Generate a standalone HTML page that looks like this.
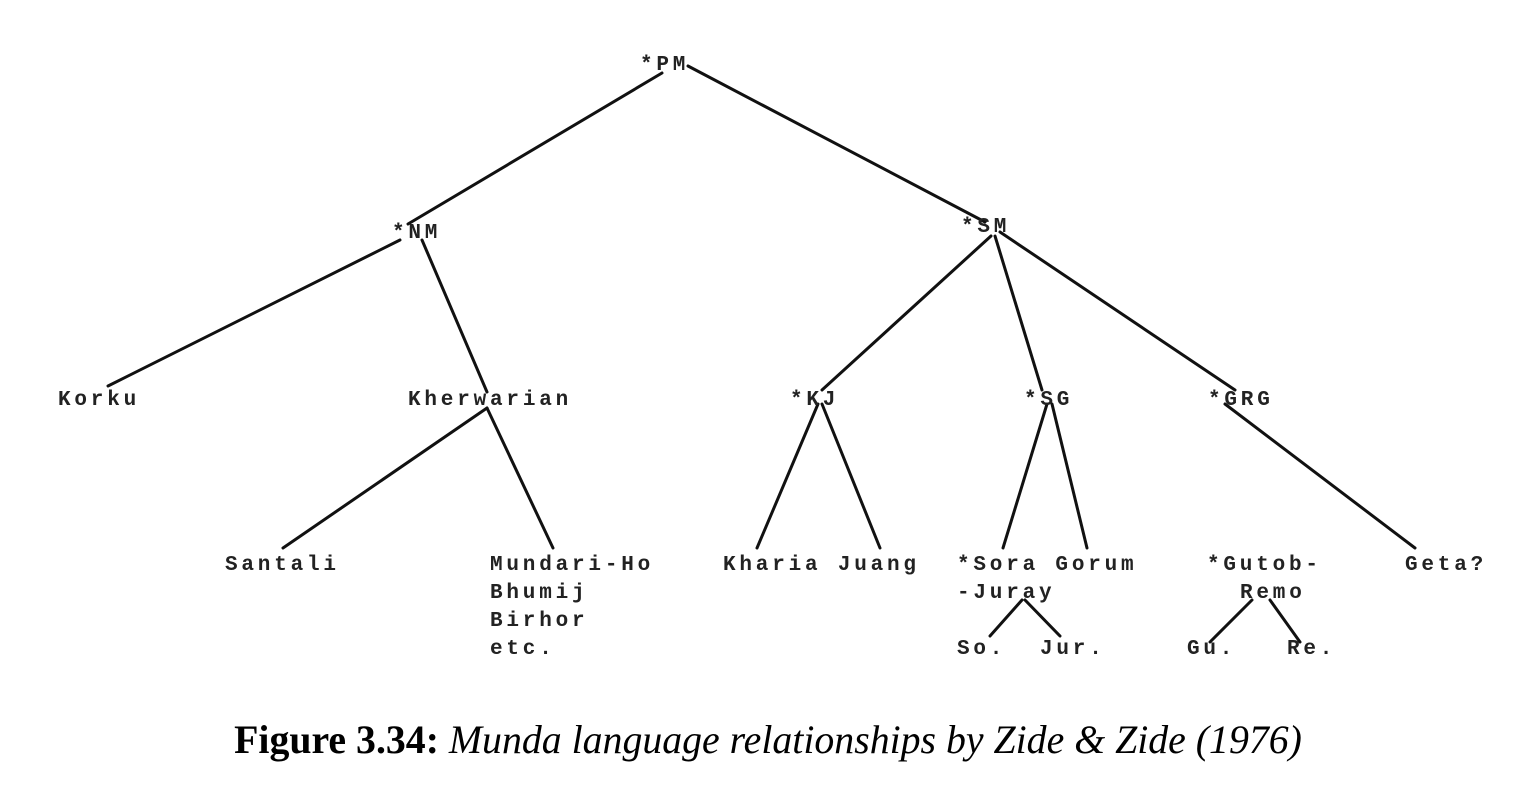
<!DOCTYPE html>
<html><head><meta charset="utf-8"><style>
html,body{margin:0;padding:0;background:#fff;width:1536px;height:810px;overflow:hidden}
svg{position:absolute;left:0;top:0}
.t{font-family:"Liberation Mono",monospace;font-size:21px;letter-spacing:3.8px;font-weight:bold;fill:#222}
.cap{position:absolute;left:0;width:1536px;top:717px;text-align:center;font-family:"Liberation Serif",serif;font-size:39.8px;color:#000;white-space:nowrap}
</style></head><body>
<svg width="1536" height="810" viewBox="0 0 1536 810">
<g stroke="#111" stroke-width="3" fill="none" stroke-linecap="round">
<line x1="662" y1="73" x2="408" y2="224"/>
<line x1="688" y1="66" x2="985" y2="222"/>
<line x1="400" y1="240" x2="108" y2="386"/>
<line x1="422" y1="240" x2="487" y2="392"/>
<line x1="991" y1="236" x2="822" y2="390"/>
<line x1="995" y1="236" x2="1042" y2="390"/>
<line x1="1000" y1="232" x2="1235" y2="390"/>
<line x1="487" y1="408" x2="283" y2="548"/>
<line x1="487" y1="408" x2="553" y2="548"/>
<line x1="818" y1="404" x2="757" y2="548"/>
<line x1="822" y1="404" x2="880" y2="548"/>
<line x1="1047" y1="404" x2="1003" y2="548"/>
<line x1="1052" y1="404" x2="1087" y2="548"/>
<line x1="1225" y1="404" x2="1415" y2="548"/>
<line x1="1022" y1="600" x2="990" y2="636"/>
<line x1="1025" y1="600" x2="1060" y2="636"/>
<line x1="1252" y1="600" x2="1210" y2="642"/>
<line x1="1270" y1="600" x2="1300" y2="642"/>
</g>
<g class="t">
<text x="640" y="70">*PM</text>
<text x="392" y="238">*NM</text>
<text x="961" y="232">*SM</text>
<text x="58" y="405">Korku</text>
<text x="408" y="405">Kherwarian</text>
<text x="790" y="405">*KJ</text>
<text x="1024" y="405">*SG</text>
<text x="1208" y="405">*GRG</text>
<text x="225" y="570">Santali</text>
<text x="490" y="570">Mundari-Ho</text>
<text x="490" y="598">Bhumij</text>
<text x="490" y="626">Birhor</text>
<text x="490" y="654">etc.</text>
<text x="723" y="570">Kharia Juang</text>
<text x="957" y="570">*Sora Gorum</text>
<text x="957" y="598">-Juray</text>
<text x="957" y="654">So.</text>
<text x="1040" y="654">Jur.</text>
<text x="1207" y="570">*Gutob-</text>
<text x="1240" y="598">Remo</text>
<text x="1187" y="654">Gu.</text>
<text x="1287" y="654">Re.</text>
<text x="1405" y="570">Geta?</text>
</g>
</svg>
<div class="cap"><b>Figure 3.34:</b> <i>Munda language relationships by Zide &amp; Zide (1976)</i></div>
</body></html>
